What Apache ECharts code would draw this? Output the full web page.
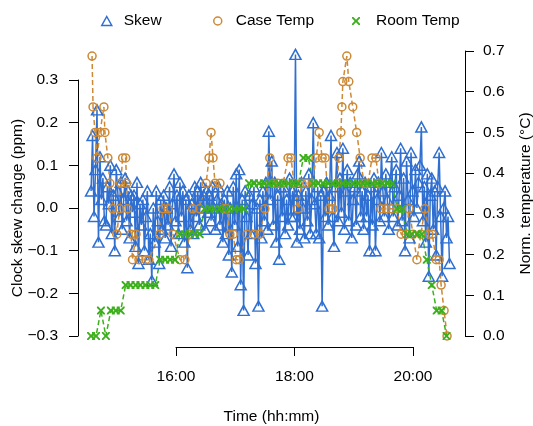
<!DOCTYPE html>
<html>
<head>
<meta charset="utf-8">
<script src="https://cdn.jsdelivr.net/npm/echarts@6/dist/echarts.min.js"></script>
<style>
	html, body { margin: 0; padding: 0; background: #fff; }
	#chart { width: 533px; height: 426px; }
</style>
</head>
<body>
<div id="chart"></div>
<script type="text/javascript">
    // times are minutes after 14:00
    var skewStart = 34, skewStep = 1.5;
    var skewVals = [
        0.04, 0.17, -0.02, 0.09, 0.23, -0.08, 0.12, 0.02, 0.07, -0.03,
        -0.04, 0.05, 0.01, 0.10, -0.06, 0.03, -0.10, 0.09, 0.04, -0.02,
        0.06, -0.05, 0.02, 0.07, -0.03, 0.04, -0.07, 0.03, -0.01, 0.03,
        -0.09, 0.06, -0.13, 0.01, -0.04, 0.02, -0.10, -0.02, 0.04, -0.12,
        -0.06, -0.17, 0.00, -0.08, 0.04, -0.03, -0.13, 0.02, -0.05, 0.03,
        -0.07, 0.00, -0.04, 0.05, -0.09, 0.01, 0.08, -0.03, 0.03, -0.06,
        0.06, -0.02, 0.04, -0.08, 0.02, -0.14, 0.03, -0.05, 0.01, -0.06,
        0.05, -0.02, 0.04, -0.04, 0.06, 0.00, 0.03, -0.05, 0.04, -0.01,
        0.03, -0.03, 0.05, 0.00, -0.05, 0.02, 0.05, -0.04, 0.01, -0.08,
        0.02, -0.06, 0.04, -0.11, 0.00, -0.15, 0.05, -0.04, 0.08, -0.09,
        0.09, -0.18, 0.02, -0.24, 0.04, -0.02, -0.11, 0.03, -0.06, 0.01,
        0.05, -0.13, 0.00, -0.23, 0.02, -0.07, 0.04, -0.03, 0.06, -0.05,
        0.18, 0.02, 0.11, -0.04, 0.06, -0.08, 0.03, -0.12, 0.05, -0.02,
        0.05, -0.06, 0.02, -0.04, 0.07, -0.02, 0.04, -0.02, 0.36, -0.08,
        0.03, -0.05, 0.06, 0.00, -0.07, 0.04, -0.03, 0.08, -0.06, 0.02,
        0.20, 0.01, -0.06, 0.05, -0.07, 0.03, -0.23, 0.04, -0.02, 0.06,
        -0.04, 0.03, 0.17, -0.02, -0.09, 0.05, 0.13, -0.03, 0.07, -0.01,
        0.14, -0.05, 0.04, 0.09, -0.03, 0.06, -0.07, 0.02, 0.05, -0.04,
        0.08, 0.11, -0.02, 0.04, -0.05, 0.06, -0.02, 0.03, -0.10, 0.05,
        -0.04, 0.07, -0.10, 0.02, 0.06, -0.03, 0.13, 0.04, -0.02, 0.08,
        0.02, -0.05, 0.06, 0.12, -0.02, 0.05, 0.09, -0.04, 0.03, 0.14,
        -0.03, 0.07, -0.10, 0.11, 0.02, -0.07, 0.13, 0.04, -0.02, 0.09,
        0.00, 0.06, 0.10, 0.19, -0.03, 0.05, -0.08, 0.08, -0.16, 0.03,
        0.07, -0.05, 0.04, -0.11, 0.05, 0.13, -0.02, -0.16, 0.00, 0.04,
        -0.07, -0.02, -0.13
    ];

    var caseMin = [
        35, 36, 38, 40, 43, 47, 48, 51, 53, 56,
        60, 63, 64, 66, 69, 70, 71, 74.5, 76, 79.5,
        82.5, 89.5, 92.5, 103.5, 107, 112, 117, 124, 129, 134,
        137, 144, 150.5, 153.5, 155.5, 157.5, 159.5, 164.5, 168.5, 171.5,
        174.5, 178, 181, 184, 192, 199, 205, 210, 215, 218,
        223, 228.5, 233.5, 236.5, 239.5, 243.5, 247.5, 252.5, 258, 262,
        265, 268, 271, 275, 279, 283, 285, 287, 288, 289,
        293, 295, 299, 303, 306.5, 310.5, 314.5, 318.5, 322.5, 325.5,
        327.5, 332.5, 338, 344, 348, 353, 356, 360, 364, 368,
        372, 376, 379.5, 383.5, 386.5, 388.5, 391.5, 394.5
    ];
    var caseVals = [
        0.6875, 0.5625, 0.5, 0.4375, 0.5, 0.5625, 0.5, 0.4375, 0.375, 0.3125,
        0.25, 0.3125, 0.375, 0.4375, 0.4375, 0.375, 0.3125, 0.25, 0.1875, 0.25,
        0.1875, 0.1875, 0.1875, 0.25, 0.3125, 0.3125, 0.25, 0.1875, 0.1875, 0.25,
        0.3125, 0.3125, 0.375, 0.4375, 0.5, 0.4375, 0.375, 0.375, 0.3125, 0.3125,
        0.25, 0.25, 0.1875, 0.1875, 0.25, 0.25, 0.25, 0.3125, 0.4375, 0.375,
        0.375, 0.375, 0.4375, 0.4375, 0.375, 0.3125, 0.375, 0.375, 0.375, 0.4375,
        0.5, 0.4375, 0.4375, 0.3125, 0.3125, 0.375, 0.4375, 0.5, 0.5625, 0.625,
        0.6875, 0.625, 0.5625, 0.5, 0.4375, 0.375, 0.375, 0.4375, 0.4375, 0.375,
        0.3125, 0.3125, 0.3125, 0.3125, 0.25, 0.25, 0.3125, 0.25, 0.1875, 0.25,
        0.3125, 0.25, 0.25, 0.1875, 0.1875, 0.125, 0.0625, 0
    ];

    var roomStart = 34, roomStep = 5;
    var roomVals = [
        0, 0, 0.0625, 0, 0.0625, 0.0625, 0.0625, 0.125, 0.125, 0.125,
        0.125, 0.125, 0.125, 0.125, 0.1875, 0.1875, 0.1875, 0.1875, 0.25, 0.25,
        0.25, 0.25, 0.25, 0.3125, 0.3125, 0.3125, 0.3125, 0.3125, 0.3125, 0.3125,
        0.3125, 0.3125, 0.375, 0.375, 0.375, 0.375, 0.375, 0.375, 0.375, 0.375,
        0.375, 0.375, 0.375, 0.4375, 0.4375, 0.375, 0.375, 0.375, 0.375, 0.375,
        0.375, 0.375, 0.375, 0.375, 0.375, 0.375, 0.375, 0.375, 0.375, 0.375,
        0.375, 0.375, 0.3125, 0.3125, 0.25, 0.25, 0.25, 0.25, 0.1875, 0.125,
        0.0625, 0.0625, 0
    ];

    var blue = '#2f6fd1', orange = '#cc8936', green = '#3cb01c';
    var font = '"Liberation Sans", Arial, Helvetica, sans-serif';
    var crossPath = 'path://M0,0L1.7,0L5,3.3L8.3,0L10,0L10,1.7L6.7,5L10,8.3L10,10L8.3,10L5,6.7L1.7,10L0,10L0,8.3L3.3,5L0,1.7Z';

    function hrs(m) { return 14 + m / 60; }

    var skewData = skewVals.map(function (v, i) { return [hrs(skewStart + skewStep * i), v]; });
    var caseData = caseMin.map(function (m, i) { return [hrs(m), caseVals[i]]; });
    var roomData = roomVals.map(function (v, i) { return [hrs(roomStart + roomStep * i), v]; });

    var xMin = 14.346, xMax = 20.878;
    function num(v) { return (v < 0 ? '\u2212' : '') + Math.abs(v).toFixed(1); }

    var lbl = { color: '#000', fontSize: 15.5, fontFamily: font };
    var axLine = { show: true, lineStyle: { color: '#000', width: 1 } };
    var axTick = { show: true, inside: false, length: 9, lineStyle: { color: '#000', width: 1 } };
    function legText(pad) {
        return { color: '#000', fontSize: 15.5, fontFamily: font, padding: [0, 0, 0, pad] };
    }

    var myChart = echarts.init(document.getElementById('chart'), null, { renderer: 'canvas' });
    var option = {
        animation: false,
        backgroundColor: '#fff',
        legend: [
            { data: [{ name: 'Skew', icon: 'triangle', itemStyle: { color: 'rgba(0,0,0,0)', borderColor: blue, borderWidth: 1.5 } }],
              left: 101, top: 13, itemWidth: 10, itemHeight: 9, padding: 0, selectedMode: false,
              textStyle: legText(7) },
            { data: [{ name: 'Case Temp', icon: 'circle', itemStyle: { color: 'rgba(0,0,0,0)', borderColor: orange, borderWidth: 1.5 } }],
              left: 213, top: 13, itemWidth: 8, itemHeight: 8, padding: 0, selectedMode: false,
              textStyle: legText(9) },
            { data: [{ name: 'Room Temp', icon: crossPath, itemStyle: { color: green } }],
              left: 352, top: 13, itemWidth: 8, itemHeight: 8, padding: 0, selectedMode: false,
              textStyle: legText(11) }
        ],
        grid: [
            { left: 78, right: 68, top: 80, bottom: 90, outerBoundsMode: 'none' },
            { left: 78, right: 68, top: 51, bottom: 90, outerBoundsMode: 'none' },
            { left: 176, right: 120, top: 340, bottom: 79, outerBoundsMode: 'none' }
        ],
        xAxis: [
            { type: 'value', gridIndex: 0, min: xMin, max: xMax,
              axisLine: { show: false }, axisTick: { show: false }, axisLabel: { show: false }, splitLine: { show: false },
              name: 'Time (hh:mm)', nameLocation: 'middle', nameGap: 73, nameMoveOverlap: false, nameTextStyle: lbl },
            { type: 'value', gridIndex: 1, min: xMin, max: xMax, show: false },
            { type: 'value', gridIndex: 2, min: 16, max: 20, interval: 2, position: 'bottom',
              axisLine: axLine, axisTick: axTick, splitLine: { show: false },
              axisLabel: { color: '#000', fontSize: 15.5, fontFamily: font, margin: 22,
                           formatter: function (v) { return v + ':00'; } } }
        ],
        yAxis: [
            { type: 'value', gridIndex: 0, position: 'left', min: -0.3, max: 0.3, interval: 0.1,
              axisLine: axLine, axisTick: axTick, splitLine: { show: false },
              axisLabel: { color: '#000', fontSize: 15.5, fontFamily: font, margin: 20, formatter: num },
              name: 'Clock skew change (ppm)', nameLocation: 'middle', nameRotate: 90, nameGap: 52,
              nameMoveOverlap: false, nameTextStyle: lbl },
            { type: 'value', gridIndex: 1, position: 'right', min: 0, max: 0.7, interval: 0.1,
              axisLine: axLine, axisTick: axTick, splitLine: { show: false },
              axisLabel: { color: '#000', fontSize: 15.5, fontFamily: font, margin: 18, formatter: num },
              name: 'Norm. temperature (\u00b0C)', nameLocation: 'middle', nameRotate: 90, nameGap: 53,
              nameMoveOverlap: false, nameTextStyle: lbl },
            { type: 'value', gridIndex: 2, min: 0, max: 1, show: false }
        ],
        series: [
            {
                name: 'Skew', type: 'line', xAxisIndex: 0, yAxisIndex: 0, data: skewData,
                symbol: 'triangle', symbolSize: [11, 10], clip: false,
                lineStyle: { color: blue, width: 1.5 },
                itemStyle: { color: 'rgba(0,0,0,0)', borderColor: blue, borderWidth: 1.5 },
                emphasis: { disabled: true }
            },
            {
                name: 'Case Temp', type: 'line', xAxisIndex: 1, yAxisIndex: 1, data: caseData,
                symbol: 'circle', symbolSize: 8,
                lineStyle: { color: orange, width: 1.5, type: [5, 3] },
                itemStyle: { color: 'rgba(0,0,0,0)', borderColor: orange, borderWidth: 1.5 },
                emphasis: { disabled: true }
            },
            {
                name: 'Room Temp', type: 'line', xAxisIndex: 1, yAxisIndex: 1, data: roomData,
                symbol: crossPath, symbolSize: 8,
                lineStyle: { color: green, width: 1.5, type: [5, 3] },
                itemStyle: { color: green },
                emphasis: { disabled: true }
            }
        ]
    };
    myChart.setOption(option);
</script>
</body>
</html>
